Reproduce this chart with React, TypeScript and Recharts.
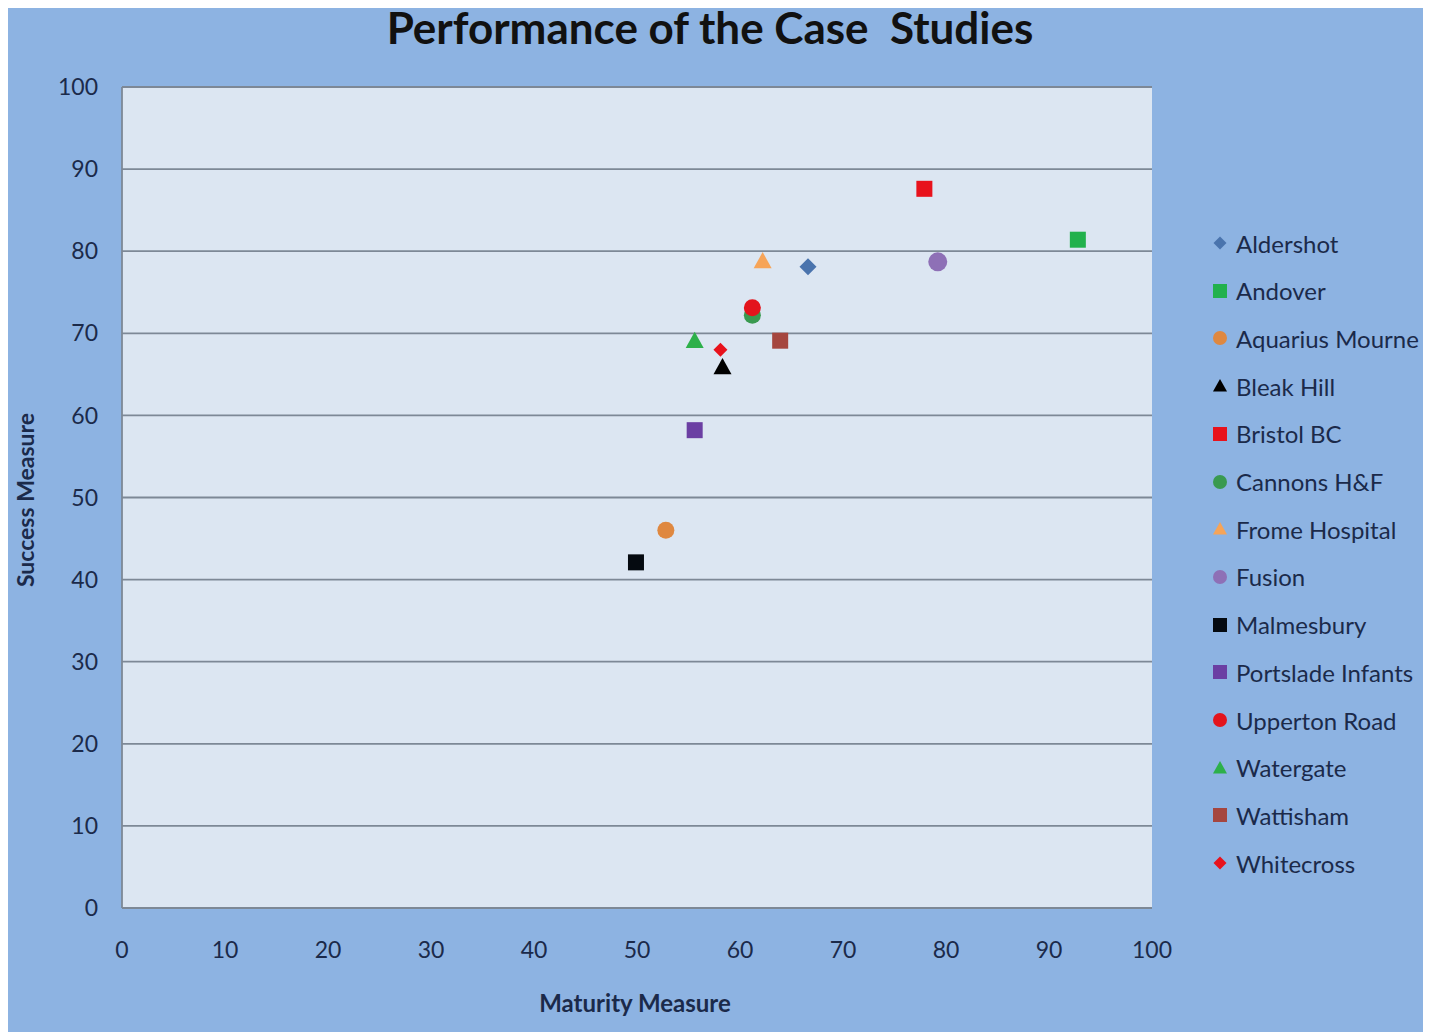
import { ScatterChart, Scatter, XAxis, YAxis, CartesianGrid } from "recharts";

const caseNames = [
  "Aldershot",
  "Andover",
  "Aquarius Mourne",
  "Bleak Hill",
  "Bristol BC",
  "Cannons H&F",
  "Frome Hospital",
  "Fusion",
  "Malmesbury",
  "Portslade Infants",
  "Upperton Road",
  "Watergate",
  "Wattisham",
  "Whitecross",
];
const maturity = [66.6, 92.8, 52.8, 58.3, 77.9, 61.2, 62.2, 79.2, 49.9, 55.6, 61.2, 55.6, 63.9, 58.1];
const success = [78.1, 81.4, 46.0, 65.9, 87.6, 72.2, 78.8, 78.7, 42.1, 58.2, 73.1, 69.1, 69.1, 68.0];
const markerColors = [
  "#4a74ad",
  "#22b14c",
  "#df8840",
  "#000000",
  "#e8121c",
  "#3a9a50",
  "#f6a458",
  "#8e70b6",
  "#050a10",
  "#6b3fa3",
  "#e3141c",
  "#2db04a",
  "#a5463f",
  "#e8121c",
];
const markerKinds = [
  "diamond",
  "square",
  "circle",
  "triangle",
  "square",
  "circle",
  "triangle",
  "circle",
  "square",
  "square",
  "circle",
  "triangle",
  "square",
  "diamond",
];
const axisTicks = [0, 10, 20, 30, 40, 50, 60, 70, 80, 90, 100];

const textColor = "#1b2a4a";
const font = "Lato, 'Open Sans', sans-serif";

function markerSize(kind: string, name: string) {
  if (kind === "diamond") return name === "Whitecross" ? 14 : 17;
  if (kind === "circle") return name === "Fusion" ? 19 : 17;
  if (kind === "triangle") return 18;
  return 16;
}

function Marker({ cx, cy, kind, color, size }: { cx: number; cy: number; kind: string; color: string; size: number }) {
  const h = size / 2;
  if (kind === "circle") return <circle cx={cx} cy={cy} r={h} fill={color} />;
  if (kind === "square") return <rect x={cx - h} y={cy - h} width={size} height={size} fill={color} />;
  if (kind === "triangle")
    return <polygon points={`${cx},${cy - h} ${cx + h},${cy + h * 0.8} ${cx - h},${cy + h * 0.8}`} fill={color} />;
  return <polygon points={`${cx},${cy - h} ${cx + h},${cy} ${cx},${cy + h} ${cx - h},${cy}`} fill={color} />;
}

export default function App() {
  return (
    <div style={{ position: "relative", width: 1423, height: 1024, background: "#8db3e2", fontFamily: font }}>
      <div
        style={{
          position: "absolute",
          left: 0,
          top: -7,
          width: 1404,
          textAlign: "center",
          fontSize: 44,
          fontWeight: 700,
          color: "#111",
          whiteSpace: "pre",
        }}
      >
        Performance of the Case  Studies
      </div>

      <ScatterChart width={1423} height={1024} margin={{ top: 79, right: 279, left: 54, bottom: 64 }}>
        <CartesianGrid vertical={false} stroke="#7d8896" strokeWidth={1.8} fill="#dce6f2" />
        <XAxis
          type="number"
          dataKey="x"
          domain={[0, 100]}
          ticks={axisTicks}
          height={60}
          tickLine={false}
          tickSize={0}
          tickMargin={34}
          axisLine={{ stroke: "#7d8896", strokeWidth: 1.8 }}
          tick={{ fill: textColor, fontSize: 23, fontFamily: font }}
        />
        <YAxis
          type="number"
          dataKey="y"
          domain={[0, 100]}
          ticks={axisTicks}
          width={60}
          tickLine={false}
          tickSize={0}
          tickMargin={24}
          axisLine={{ stroke: "#7d8896", strokeWidth: 1.8 }}
          tick={{ fill: textColor, fontSize: 23, fontFamily: font }}
        />
        {caseNames.map((name, i) => (
          <Scatter
            key={name}
            name={name}
            data={[{ x: maturity[i], y: success[i] }]}
            isAnimationActive={false}
            shape={(p: any) => (
              <Marker cx={p.cx} cy={p.cy} kind={markerKinds[i]} color={markerColors[i]} size={markerSize(markerKinds[i], name)} />
            )}
          />
        ))}
      </ScatterChart>

      <div
        style={{
          position: "absolute",
          left: 17,
          top: 492,
          transform: "translate(-50%, -50%) rotate(-90deg)",
          fontSize: 23,
          fontWeight: 700,
          color: textColor,
          whiteSpace: "nowrap",
        }}
      >
        Success Measure
      </div>
      <div
        style={{
          position: "absolute",
          left: 627,
          top: 994,
          transform: "translate(-50%, -50%)",
          fontSize: 24,
          fontWeight: 700,
          color: textColor,
          whiteSpace: "nowrap",
        }}
      >
        Maturity Measure
      </div>

      {caseNames.map((name, i) => (
        <div
          key={name}
          style={{
            position: "absolute",
            left: 1204,
            top: 235 + i * 47.7 - 15,
            height: 30,
            display: "flex",
            alignItems: "center",
            fontSize: 24,
            color: textColor,
            whiteSpace: "nowrap",
          }}
        >
          <svg width={16} height={16} style={{ marginRight: 8 }}>
            <Marker cx={8} cy={8} kind={markerKinds[i]} color={markerColors[i]} size={markerKinds[i] === "diamond" ? 13 : 14} />
          </svg>
          {name}
        </div>
      ))}
    </div>
  );
}
